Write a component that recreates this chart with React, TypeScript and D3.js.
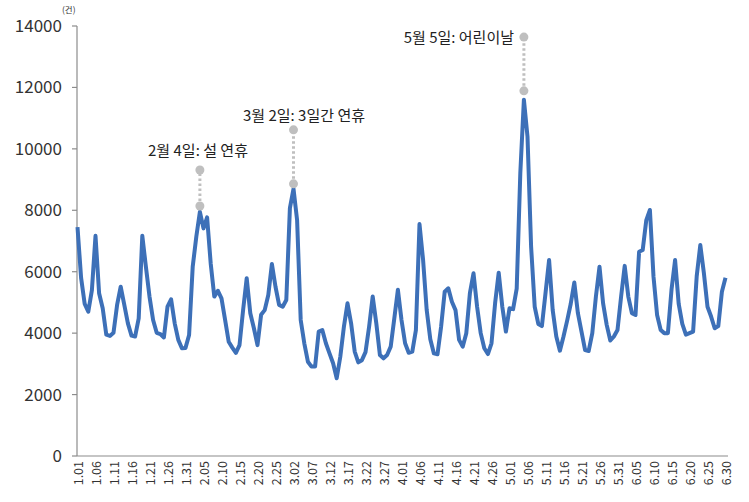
import React, { useEffect, useRef } from "react";
import * as d3 from "d3";

// daily counts, 2019.01.01 ~ 2019.06.30 (unit: 건)
const values = [
  7450, 5800, 4950, 4700, 5400, 7170, 5300, 4810, 3950, 3910, 4010, 4920, 5510, 4920, 4320, 3920, 3890, 4480, 7170, 6160,
  5190, 4430, 4010, 3970, 3860, 4860, 5100, 4320, 3780, 3510, 3520, 3940, 6160, 7140, 7950, 7410, 7770, 6270, 5190, 5380,
  5130, 4430, 3720, 3530, 3360, 3610, 4750, 5790, 4650, 4160, 3610, 4600, 4750, 5240, 6250, 5510, 4920, 4860, 5080, 8070,
  8700, 7680, 4430, 3670, 3070, 2910, 2910, 4050, 4100, 3670, 3340, 3020, 2530, 3230, 4210, 4970, 4320, 3400, 3050, 3120,
  3380, 4210, 5190, 4320, 3290, 3180, 3290, 3560, 4480, 5410, 4430, 3670, 3360, 3400, 4100, 7550, 6380, 4750, 3800, 3340,
  3310, 4210, 5350, 5460, 5020, 4750, 3780, 3560, 4000, 5300, 5950, 4860, 4000, 3510, 3320, 3670, 4970, 5970, 4860, 4050,
  4810, 4780, 5450, 9200, 11600, 10400, 6820, 4860, 4300, 4230, 5300, 6380, 4750, 3890, 3430, 3890, 4400, 4950, 5650, 4650,
  4050, 3450, 3420, 4000, 5190, 6160, 4970, 4270, 3760, 3890, 4100, 5190, 6190, 5190, 4650, 4590, 6650, 6710, 7680, 8010,
  5840, 4590, 4100, 4000, 4000, 5410, 6380, 4950, 4300, 3950, 4000, 4050, 5850, 6870, 5950, 4860, 4540, 4160, 4230, 5350,
  5800,
];

const days = d3.timeDays(new Date(2019, 0, 1), new Date(2019, 6, 1)).map(d3.timeFormat("%-m.%d"));

const yTicks = [0, 2000, 4000, 6000, 8000, 10000, 12000, 14000];

// holiday notes: date, lower dot, upper dot
const noteDays = ["2.04", "3.02", "5.05"];
const noteLow = [8140, 8860, 11890];
const noteHigh = [9310, 10620, 13640];
const noteText = ["2월 4일: 설 연휴", "3월 2일: 3일간 연휴", "5월 5일: 어린이날"];

const App = () => {
  const ref = useRef<SVGSVGElement>(null);

  useEffect(() => {
    const svg = d3.select(ref.current);
    svg.selectAll("*").remove();

    const font = "'Noto Sans CJK KR', 'Noto Sans', sans-serif";
    const axisColor = "#8c8c8c";

    const x = d3.scalePoint<string>().domain(days).range([77.5, 725.5]);
    const y = d3.scaleLinear().domain([0, 14000]).range([456, 26]);

    // y axis
    svg.append("line")
      .attr("x1", 77).attr("x2", 77).attr("y1", y(14000)).attr("y2", y(0))
      .attr("stroke", axisColor).attr("stroke-width", 1.2);
    const yg = svg.append("g");
    yg.selectAll("line").data(yTicks).enter().append("line")
      .attr("x1", 72).attr("x2", 77)
      .attr("y1", (d) => y(d)).attr("y2", (d) => y(d))
      .attr("stroke", axisColor).attr("stroke-width", 1.2);
    yg.selectAll("text").data(yTicks).enter().append("text")
      .attr("x", 62).attr("y", (d) => y(d))
      .attr("dy", "0.35em")
      .attr("text-anchor", "end")
      .attr("font-family", font).attr("font-size", 17).attr("fill", "#333")
      .text((d) => d);
    svg.append("text")
      .attr("x", 62).attr("y", 13)
      .attr("font-family", font).attr("font-size", 8.5).attr("fill", "#333")
      .text("(건)");

    // x axis
    svg.append("line")
      .attr("x1", 77).attr("x2", 728).attr("y1", y(0)).attr("y2", y(0))
      .attr("stroke", axisColor).attr("stroke-width", 1.2);
    const xTicks = days.filter((d, i) => i % 5 === 0);
    svg.append("g").selectAll("text").data(xTicks).enter().append("text")
      .attr("transform", (d) => "translate(" + x(d) + ",461) rotate(-90)")
      .attr("text-anchor", "end")
      .attr("dominant-baseline", "central")
      .attr("font-family", font).attr("font-size", 12.5).attr("fill", "#333")
      .text((d) => d);

    // series line
    const line = d3.line<number>()
      .x((d, i) => x(days[i]) as number)
      .y((d) => y(d));
    svg.append("path")
      .datum(values)
      .attr("d", line)
      .attr("fill", "none")
      .attr("stroke", "#3d70b8")
      .attr("stroke-width", 4)
      .attr("stroke-linejoin", "round");

    // annotations
    noteDays.forEach((d, i) => {
      const nx = x(d) as number;
      svg.append("line")
        .attr("x1", nx).attr("x2", nx)
        .attr("y1", y(noteLow[i])).attr("y2", y(noteHigh[i]))
        .attr("stroke", "#bfbfbf").attr("stroke-width", 3)
        .attr("stroke-dasharray", "2.5,2.5");
      [noteLow[i], noteHigh[i]].forEach((v) => {
        svg.append("circle")
          .attr("cx", nx).attr("cy", y(v)).attr("r", 4.5)
          .attr("fill", "#bfbfbf");
      });
    });
    const tx = [198, 304, 514];
    const ty = [156, 121, 43];
    const anchor = ["middle", "middle", "end"];
    noteText.forEach((t, i) => {
      svg.append("text")
        .attr("x", tx[i]).attr("y", ty[i])
        .attr("text-anchor", anchor[i])
        .attr("font-family", font).attr("font-size", 15).attr("fill", "#222")
        .text(t);
    });
  }, []);

  return (
    <svg
      ref={ref}
      width={749}
      height={502}
      style={{ position: "absolute", left: 0, top: 0, background: "#fff" }}
    />
  );
};

export default App;
